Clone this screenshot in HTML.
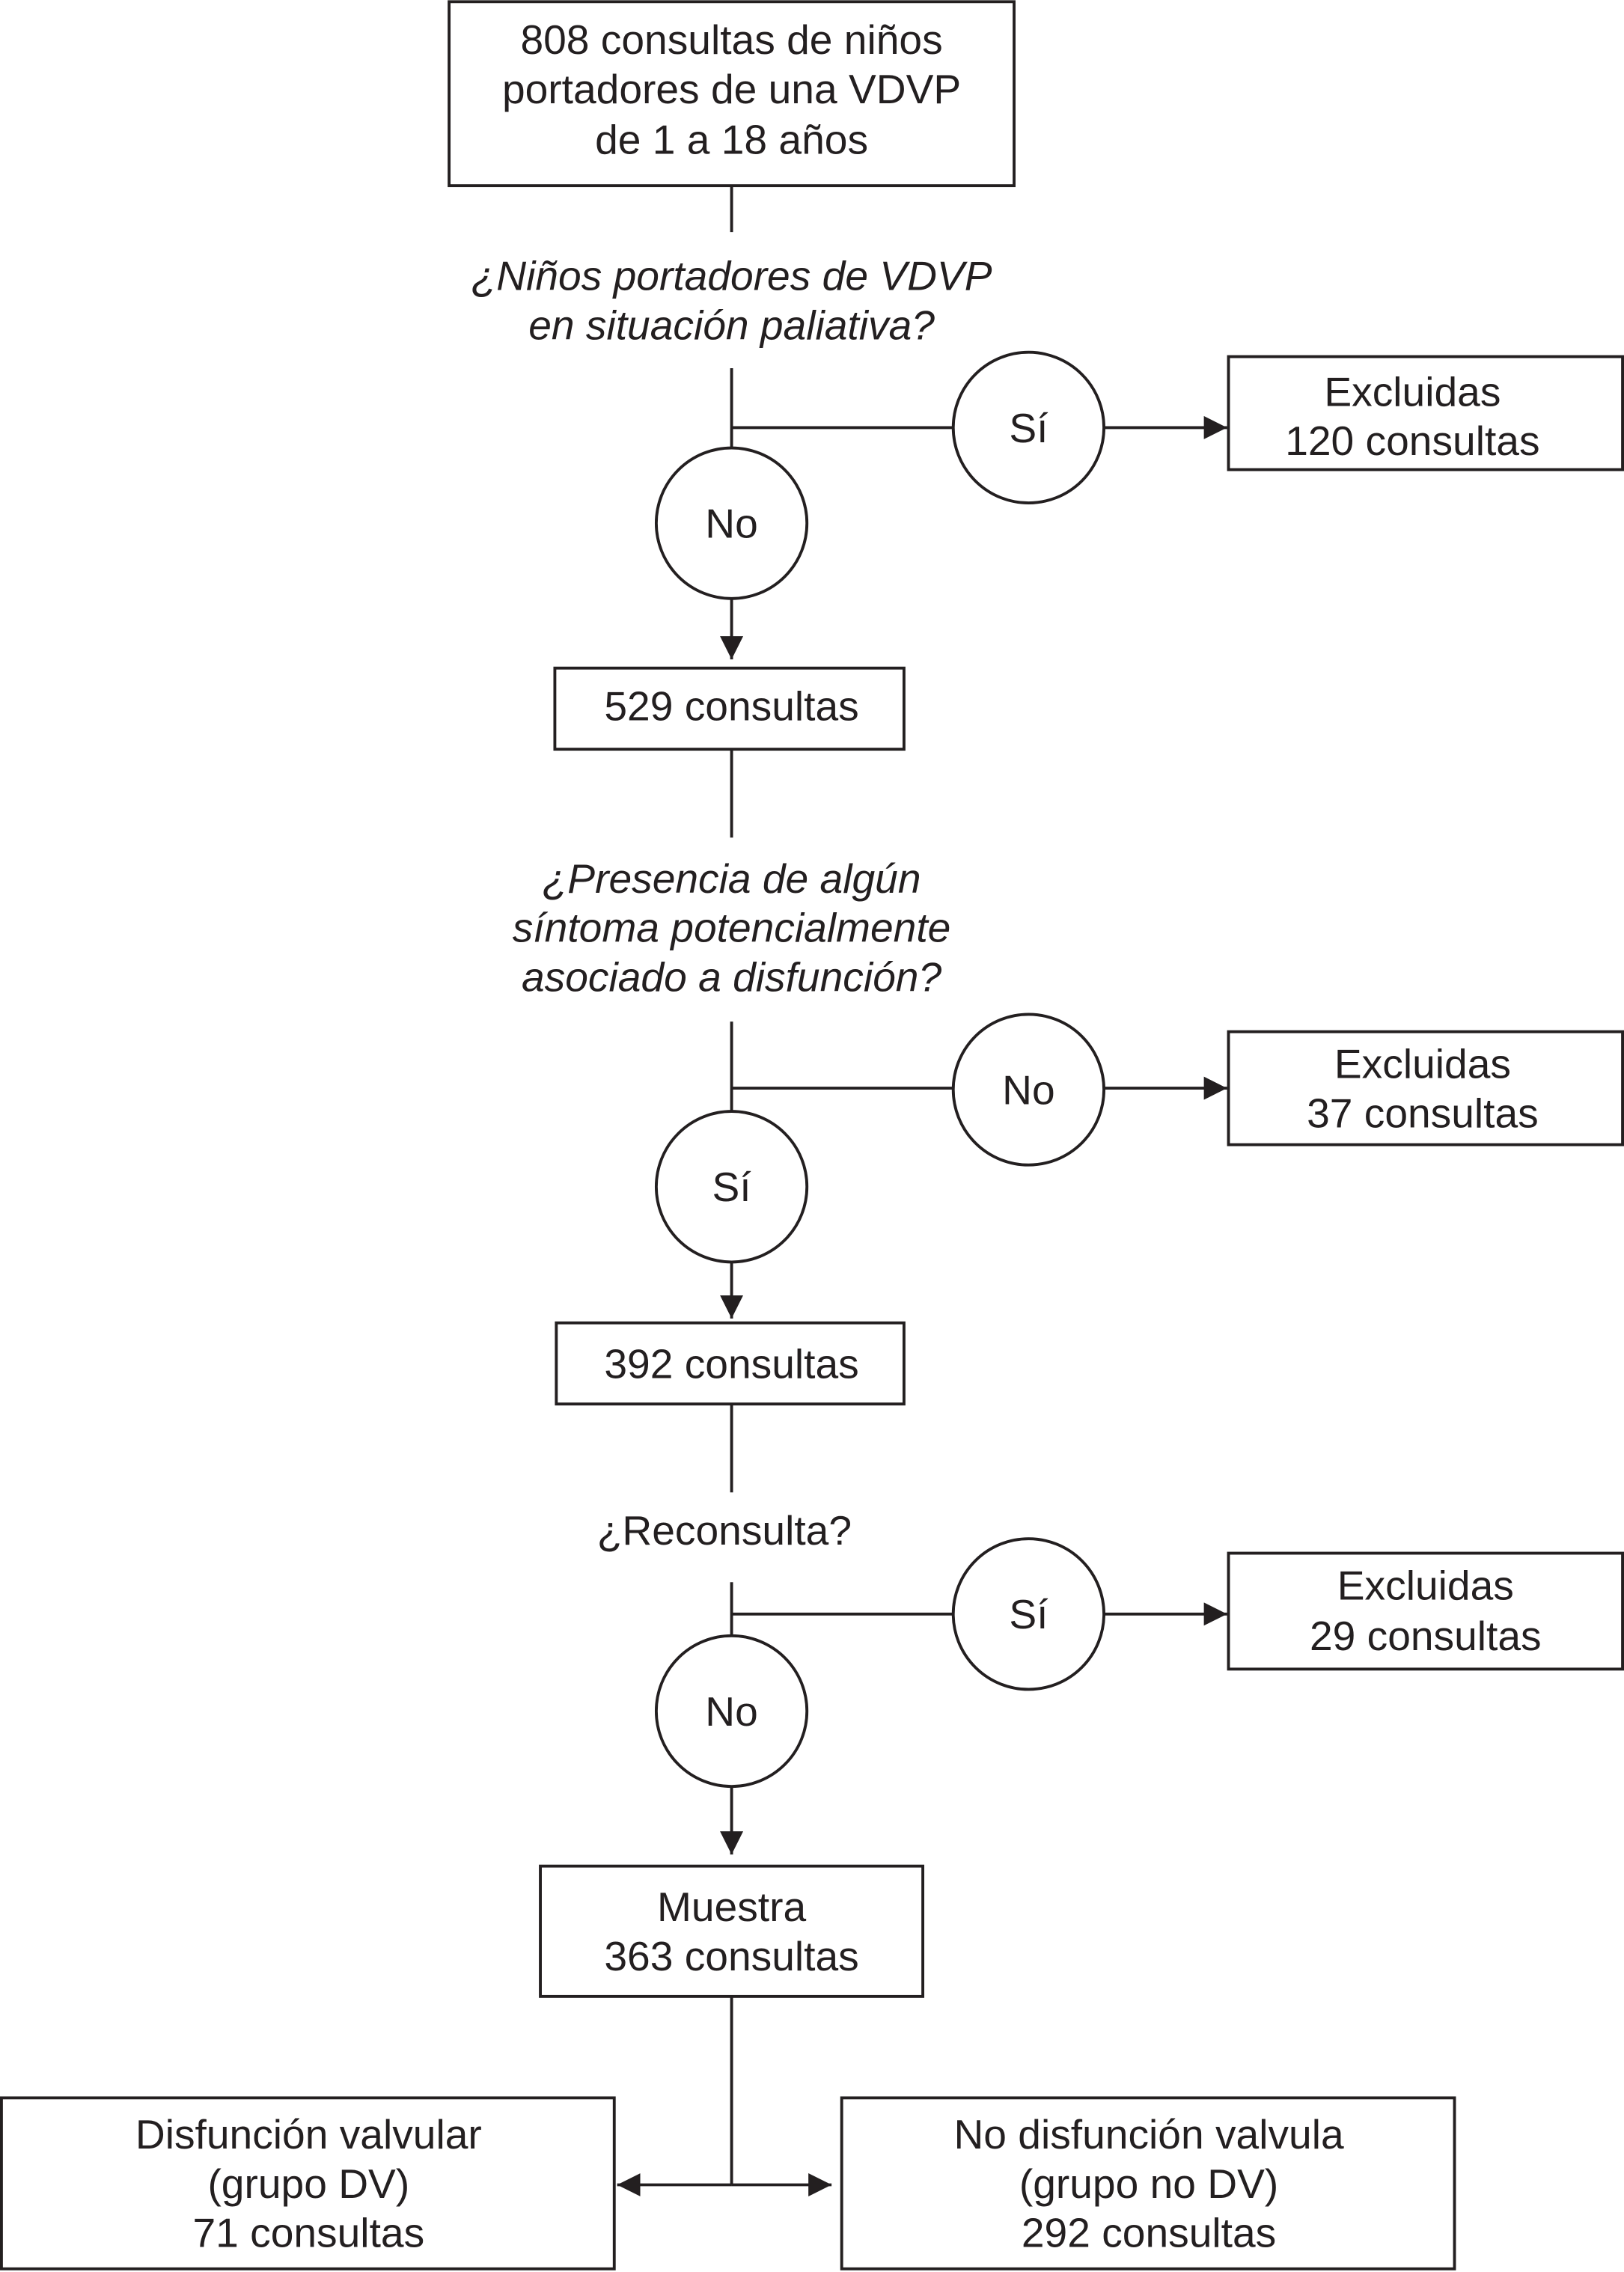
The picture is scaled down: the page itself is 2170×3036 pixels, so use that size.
<!DOCTYPE html>
<html><head><meta charset="utf-8"><style>html,body{margin:0;padding:0;background:#fff}svg{display:block}</style></head>
<body>
<svg width="2170" height="3036" viewBox="0 0 1121 1568" xmlns="http://www.w3.org/2000/svg" font-family="Liberation Sans, Arial, sans-serif" font-size="28.5" fill="#231f20">
<defs>
<marker id="b" viewBox="0 0 10 10" refX="10" refY="5" markerWidth="16" markerHeight="16" markerUnits="userSpaceOnUse" orient="auto"><path d="M0,0L10,5L0,10z" fill="#231f20"/></marker></defs>
<g stroke="#231f20" stroke-width="2" fill="none">
<rect x="310" y="1" width="390" height="127"/>
<line x1="505" y1="128" x2="505" y2="160"/>
<line x1="505" y1="254" x2="505" y2="309"/>
<line x1="505" y1="295" x2="658" y2="295"/>
<circle cx="710" cy="295" r="52"/>
<line x1="762" y1="295" x2="847" y2="295" marker-end="url(#b)"/>
<rect x="848" y="246" width="272" height="78"/>
<circle cx="505" cy="361" r="52"/>
<line x1="505" y1="413" x2="505" y2="455" marker-end="url(#b)"/>
<rect x="383" y="461" width="241" height="56"/>
<line x1="505" y1="517" x2="505" y2="578"/>
<line x1="505" y1="705" x2="505" y2="767"/>
<line x1="505" y1="751" x2="658" y2="751"/>
<circle cx="710" cy="752" r="52"/>
<line x1="762" y1="751" x2="847" y2="751" marker-end="url(#b)"/>
<rect x="848" y="712" width="272" height="78"/>
<circle cx="505" cy="819" r="52"/>
<line x1="505" y1="871" x2="505" y2="910" marker-end="url(#b)"/>
<rect x="384" y="913" width="240" height="56"/>
<line x1="505" y1="969" x2="505" y2="1030"/>
<line x1="505" y1="1092" x2="505" y2="1129"/>
<line x1="505" y1="1114" x2="658" y2="1114"/>
<circle cx="710" cy="1114" r="52"/>
<line x1="762" y1="1114" x2="847" y2="1114" marker-end="url(#b)"/>
<rect x="848" y="1072" width="272" height="80"/>
<circle cx="505" cy="1181" r="52"/>
<line x1="505" y1="1233" x2="505" y2="1280" marker-end="url(#b)"/>
<rect x="373" y="1288" width="264" height="90"/>
<line x1="505" y1="1378" x2="505" y2="1508"/>
<line x1="505" y1="1508" x2="426" y2="1508" marker-end="url(#b)"/>
<line x1="505" y1="1508" x2="574" y2="1508" marker-end="url(#b)"/>
<rect x="1" y="1448" width="423" height="118"/>
<rect x="581" y="1448" width="423" height="118"/>
</g>
<g text-anchor="middle">
<text x="505" y="37">808 consultas de niños</text>
<text x="505" y="71">portadores de una VDVP</text>
<text x="505" y="106">de 1 a 18 años</text>
<g font-style="italic">
<text x="505" y="200">¿Niños portadores de VDVP</text>
<text x="505" y="234">en situación paliativa?</text>
<text x="505" y="616">¿Presencia de algún</text>
<text x="505" y="650">síntoma potencialmente</text>
<text x="505" y="684">asociado a disfunción?</text>
</g>
<text x="710" y="305">Sí</text>
<text x="975" y="280">Excluidas</text>
<text x="975" y="314">120 consultas</text>
<text x="505" y="371">No</text>
<text x="505" y="497">529 consultas</text>
<text x="710" y="762">No</text>
<text x="982" y="744">Excluidas</text>
<text x="982" y="778">37 consultas</text>
<text x="505" y="829">Sí</text>
<text x="505" y="951">392 consultas</text>
<text x="500" y="1066">¿Reconsulta?</text>
<text x="710" y="1124">Sí</text>
<text x="984" y="1104">Excluidas</text>
<text x="984" y="1139">29 consultas</text>
<text x="505" y="1191">No</text>
<text x="505" y="1326">Muestra</text>
<text x="505" y="1360">363 consultas</text>
<text x="213" y="1483">Disfunción valvular</text>
<text x="213" y="1517">(grupo DV)</text>
<text x="213" y="1551">71 consultas</text>
<text x="793" y="1483">No disfunción valvula</text>
<text x="793" y="1517">(grupo no DV)</text>
<text x="793" y="1551">292 consultas</text>
</g>
</svg>
</body></html>
